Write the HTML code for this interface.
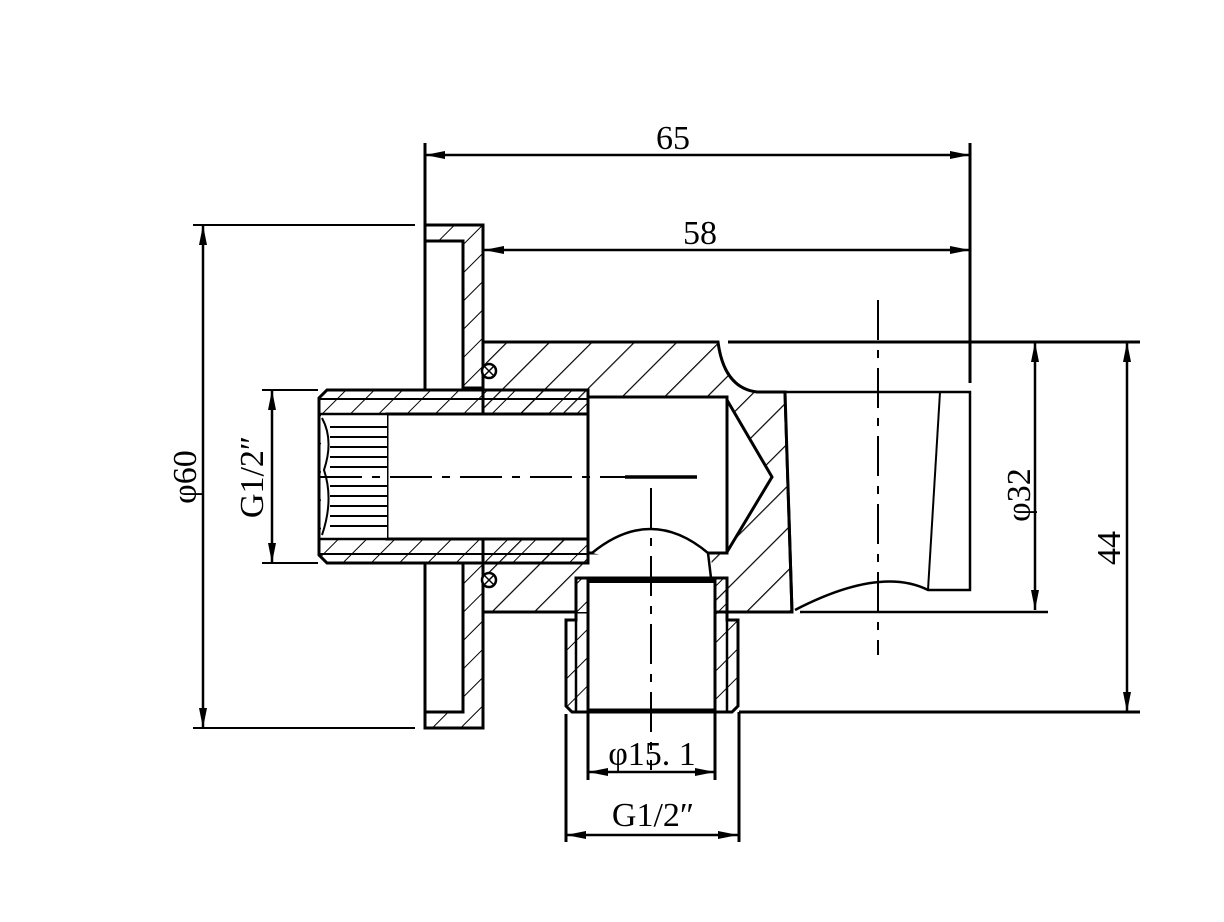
<!DOCTYPE html>
<html><head><style>html,body{margin:0;padding:0;background:#fff}svg{display:block}text{font-family:"Liberation Serif",serif;fill:#000}</style></head>
<body>
<svg width="1224" height="922" viewBox="0 0 1224 922" xmlns="http://www.w3.org/2000/svg">
<defs>
<pattern id="h" patternUnits="userSpaceOnUse" width="30" height="30" patternTransform="rotate(45)"><line x1="0" y1="0" x2="0" y2="30" stroke="#000" stroke-width="2.4"/></pattern>
<pattern id="hs" patternUnits="userSpaceOnUse" width="20" height="20" patternTransform="rotate(45)"><line x1="0" y1="0" x2="0" y2="20" stroke="#000" stroke-width="2"/></pattern>
<marker id="a" viewBox="0 0 20 8" refX="20" refY="4" markerWidth="20" markerHeight="8" markerUnits="userSpaceOnUse" orient="auto-start-reverse"><path d="M0,0 L20,4 L0,8 Z" fill="#000"/></marker>
</defs>
<g fill="none" stroke="#000">
<!-- body hatched -->
<path d="M483,342 L718,342 Q724,388 757,392 L785,392 L792,612 L483,612 Z" fill="url(#h)" stroke="#000" stroke-width="3"/>
<!-- cavities white -->
<path d="M588,397 L727,397 L772,477 L727,553 L711,555 L713,578 L576,578 L576,612 L588,612 L588,553 Z" fill="#fff" stroke="none"/>
<rect x="588" y="397" width="139" height="156" fill="#fff" stroke="#000" stroke-width="3"/>
<path d="M727,400 L772,477 L727,552" stroke-width="3"/>
<path d="M592,553 Q651,505 708,553 L711,578" fill="#fff" stroke-width="2.5"/>
<!-- outlet -->
<path d="M785,392 L970,392 L970,590 L928,590 Q880,566 795,610" fill="#fff" stroke-width="2.5"/>
<path d="M785,392 L792,612" stroke-width="3"/>
<path d="M940,392 L928,590" stroke-width="2"/>
<!-- flange -->
<path d="M425,225 L483,225 L483,388 L463,388 L463,241 L425,241 Z" fill="url(#hs)" stroke-width="3"/>
<path d="M425,728 L483,728 L483,563 L463,563 L463,712 L425,712 Z" fill="url(#hs)" stroke-width="3"/>
<line x1="425" y1="225" x2="425" y2="390" stroke-width="3"/>
<line x1="425" y1="563" x2="425" y2="728" stroke-width="3"/>
<circle cx="489" cy="371" r="7" fill="#fff" stroke-width="2.5"/>
<circle cx="489" cy="580" r="7" fill="#fff" stroke-width="2.5"/>
<path d="M484,366 l10,10 M494,366 l-10,10 M484,575 l10,10 M494,575 l-10,10" stroke-width="1.5"/>
<!-- insert pipe -->
<path d="M327,390 L588,390 L588,563 L327,563 L319,555 L319,398 Z" fill="url(#hs)" stroke-width="3"/>
<rect x="387" y="414" width="201" height="125" fill="#fff" stroke-width="3"/>
<rect x="321" y="414" width="66" height="125" fill="#fff" stroke="none"/>
<line x1="319" y1="399" x2="588" y2="399" stroke-width="2"/>
<line x1="319" y1="554" x2="588" y2="554" stroke-width="2"/>
<line x1="319" y1="414" x2="387" y2="414" stroke-width="2.5"/>
<line x1="319" y1="539" x2="387" y2="539" stroke-width="2.5"/>
<path d="M330,427H387M330,437H387M330,447H387M330,457H387M330,467H387M330,486H387M330,496H387M330,506H387M330,516H387M330,526H387" stroke-width="2"/>
<path d="M322,418 Q334,440 324,470 Q334,500 322,535" stroke-width="2"/>
<!-- nipple -->
<path d="M576,578 L727,578 L727,620 L738,620 L738,706 L732,712 L572,712 L566,706 L566,620 L576,620 Z" fill="url(#hs)" stroke-width="3"/>
<rect x="588" y="580" width="127" height="130" fill="#fff" stroke-width="3"/>
<line x1="576" y1="578" x2="576" y2="712" stroke-width="2.5"/>
<line x1="727" y1="578" x2="727" y2="712" stroke-width="2.5"/>
<line x1="588" y1="582" x2="715" y2="582" stroke-width="2"/>
<!-- body edge lines -->
<line x1="728" y1="342" x2="1140" y2="342" stroke-width="3"/>
<line x1="800" y1="612" x2="1048" y2="612" stroke-width="2.5"/>
<line x1="739" y1="712" x2="1140" y2="712" stroke-width="3"/>
<line x1="739" y1="712" x2="739" y2="842" stroke-width="3"/>
<line x1="566" y1="714" x2="566" y2="842" stroke-width="3"/>
<line x1="588" y1="712" x2="588" y2="780" stroke-width="3"/>
<line x1="715" y1="712" x2="715" y2="780" stroke-width="3"/>
<!-- centerlines -->
<path d="M320,477H697" stroke-width="2" stroke-dasharray="42,10,8,10"/>
<line x1="625" y1="477" x2="697" y2="477" stroke-width="3.5"/>
<path d="M651,488V770" stroke-width="2" stroke-dasharray="40,10,8,10"/>
<path d="M878,300V655" stroke-width="2" stroke-dasharray="40,10,8,10"/>
<!-- dims -->
<line x1="425" y1="143" x2="425" y2="225" stroke-width="3"/>
<line x1="970" y1="143" x2="970" y2="383" stroke-width="3"/>
<line x1="425" y1="155" x2="970" y2="155" stroke-width="2.5" marker-start="url(#a)" marker-end="url(#a)"/>
<line x1="484" y1="250" x2="970" y2="250" stroke-width="2.5" marker-start="url(#a)" marker-end="url(#a)"/>
<line x1="193" y1="225" x2="415" y2="225" stroke-width="2"/>
<line x1="193" y1="728" x2="415" y2="728" stroke-width="2"/>
<line x1="203" y1="225" x2="203" y2="728" stroke-width="2.5" marker-start="url(#a)" marker-end="url(#a)"/>
<line x1="262" y1="390" x2="318" y2="390" stroke-width="2"/>
<line x1="262" y1="563" x2="318" y2="563" stroke-width="2"/>
<line x1="272" y1="390" x2="272" y2="563" stroke-width="2.5" marker-start="url(#a)" marker-end="url(#a)"/>
<line x1="1035" y1="342" x2="1035" y2="610" stroke-width="2.5" marker-start="url(#a)" marker-end="url(#a)"/>
<line x1="1127" y1="342" x2="1127" y2="712" stroke-width="2.5" marker-start="url(#a)" marker-end="url(#a)"/>
<line x1="588" y1="772" x2="715" y2="772" stroke-width="2.5" marker-start="url(#a)" marker-end="url(#a)"/>
<line x1="566" y1="835" x2="738" y2="835" stroke-width="2.5" marker-start="url(#a)" marker-end="url(#a)"/>
</g>
<text x="673" y="149" font-size="34" text-anchor="middle">65</text>
<text x="700" y="244" font-size="34" text-anchor="middle">58</text>
<text transform="translate(196,477) rotate(-90)" font-size="34" text-anchor="middle">φ60</text>
<text transform="translate(263,477) rotate(-90)" font-size="34" text-anchor="middle" fill="#333">G1/2″</text>
<text transform="translate(1030,495) rotate(-90)" font-size="34" text-anchor="middle">φ32</text>
<text transform="translate(1120,548) rotate(-90)" font-size="34" text-anchor="middle" fill="#333">44</text>
<text x="652" y="765" font-size="34" text-anchor="middle">φ15. 1</text>
<text x="653" y="826" font-size="34" text-anchor="middle">G1/2″</text>
</svg>
</body></html>
